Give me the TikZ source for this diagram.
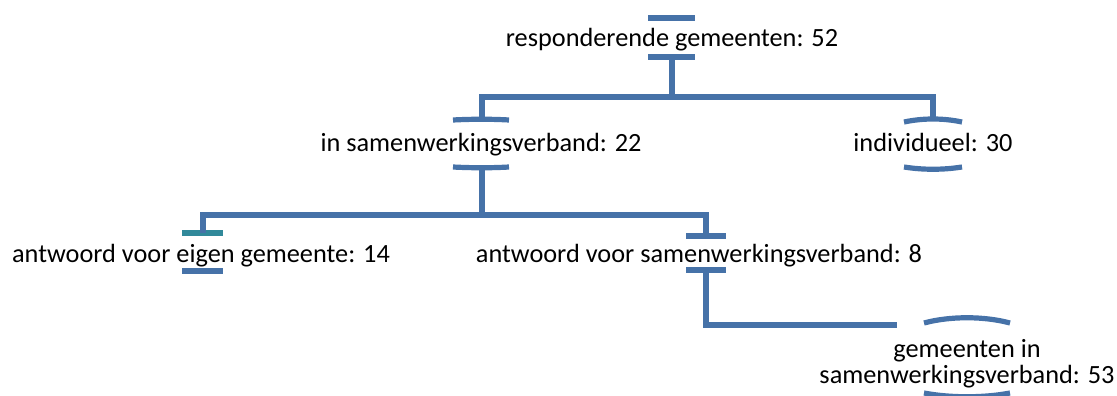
\documentclass[tikz,border=0pt]{standalone}
\usepackage{fontspec}
\setmainfont{Carlito}
\definecolor{lineblue}{RGB}{70,114,168}
\definecolor{barteal}{RGB}{49,137,154}
\begin{document}
\begin{tikzpicture}[x=1pt,y=-1pt,
  conn/.style={draw=lineblue,line width=5.2pt},
  barline/.style={draw=lineblue,line width=5.2pt},
  lbl/.style={anchor=base,inner sep=0pt,font=\fontsize{26.3}{26}\selectfont,align=center}]
\useasboundingbox (0,0) rectangle (1117,396);
% text nodes
\node[lbl] (t1) at (672,47) {responderende gemeenten: 52};
\node[lbl] (t2) at (481,151) {in samenwerkingsverband: 22};
\node[lbl] (t3) at (933,151) {individueel: 30};
\node[lbl] (t4) at (201,262) {antwoord voor eigen gemeente: 14};
\node[lbl] (t5) at (699,262) {antwoord voor samenwerkingsverband: 8};
\node[lbl] (t6) at (967,383) {gemeenten in\\samenwerkingsverband: 53};
% bar centre coordinates
\coordinate (b1t) at (672,18);
\coordinate (b1b) at (672,57);
\coordinate (b2t) at (482,119);
\coordinate (b2b) at (482,168);
\coordinate (b3t) at (933,119);
\coordinate (b3b) at (933,169);
\coordinate (b4t) at (203,233);
\coordinate (b4b) at (203,271);
\coordinate (b5t) at (706,236);
\coordinate (b5b) at (706,270);
\coordinate (j1) at (672,97);
\coordinate (j2) at (482,215);
\coordinate (e6) at (897,325);
% bars
\draw[barline] ([xshift=-24pt]b1t) -- ([xshift=23pt]b1t);
\draw[barline] ([xshift=-24pt]b1b) -- ([xshift=23pt]b1b);
\draw[barline] ([xshift=-29pt,yshift=-1pt]b2t) .. controls ([xshift=-10pt]b2t) and ([xshift=10pt]b2t) .. ([xshift=27pt,yshift=-1pt]b2t);
\draw[barline] ([xshift=-29pt,yshift=1pt]b2b) .. controls ([xshift=-10pt]b2b) and ([xshift=10pt]b2b) .. ([xshift=27pt,yshift=1pt]b2b);
\draw[barline] ([xshift=-29pt,yshift=-3pt]b3t) .. controls ([xshift=-10pt,yshift=1pt]b3t) and ([xshift=10pt,yshift=1pt]b3t) .. ([xshift=29pt,yshift=-3pt]b3t);
\draw[barline] ([xshift=-29pt,yshift=2pt]b3b) .. controls ([xshift=-10pt,yshift=-1pt]b3b) and ([xshift=10pt,yshift=-1pt]b3b) .. ([xshift=29pt,yshift=2pt]b3b);
\draw[draw=barteal,line width=5.2pt] ([xshift=-21pt]b4t) -- ([xshift=20pt]b4t);
\draw[barline] ([xshift=-21pt]b4b) -- ([xshift=20pt]b4b);
\draw[barline] ([xshift=-20pt]b5t) -- ([xshift=20pt]b5t);
\draw[barline] ([xshift=-20pt]b5b) -- ([xshift=20pt]b5b);
\draw[barline] (924,323) .. controls (950,316) and (984,316) .. (1010,323);
\draw[barline] (924,393) .. controls (950,398) and (984,398) .. (1010,393);
% connectors
\draw[conn] (b1b) -- (j1) -| (b2t);
\draw[conn] (j1) -| (b3t);
\draw[conn] (b2b) -- (j2) -| (b4t);
\draw[conn] (j2) -| (b5t);
\draw[conn] (b5b) |- (e6);
\end{tikzpicture}
\end{document}
